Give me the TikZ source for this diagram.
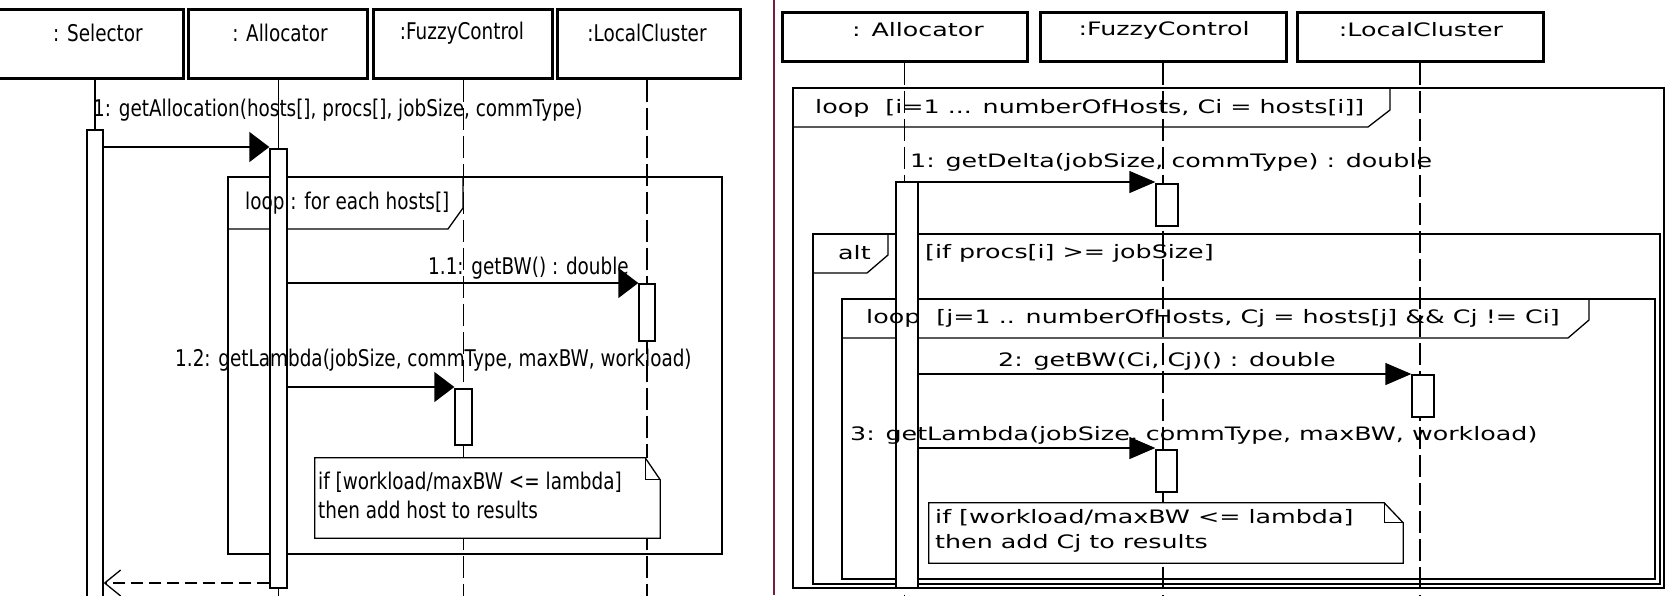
\documentclass[tikz,border=0pt]{standalone}
\usepackage{fontspec}
\usetikzlibrary{arrows.meta}
\newfontfamily\lfnt[FakeStretch=0.8]{DejaVu Sans}
\newfontfamily\rfnt[FakeStretch=1.37]{DejaVu Sans}
\newcommand\lsz{\lfnt\fontsize{23}{27}\selectfont}
\newcommand\rsz{\rfnt\fontsize{18.5}{22}\selectfont}
\definecolor{maroonc}{RGB}{120,30,70}
\begin{document}
\begin{tikzpicture}[x=1pt,y=-1pt,
  hdr/.style={draw, line width=3pt, fill=white, inner sep=0pt},
  act/.style={draw, line width=1.3pt, fill=white, inner sep=0pt},
  life/.style={line width=1.3pt, dash pattern=on 22pt off 6pt},
  frm/.style={line width=1.3pt},
  frmthick/.style={line width=2.6pt},
  lmsg/.style={line width=1.3pt, -{Triangle[length=20pt,width=30pt]}},
  rmsg/.style={line width=1.3pt, -{Triangle[length=26pt,width=22pt]}},
  ret/.style={line width=1.3pt, dash pattern=on 12pt off 6pt, -{Straight Barb[length=16pt,width=26pt]}},
  ltxt/.style={font=\lsz, inner sep=0pt, anchor=west},
  rtxt/.style={font=\rsz, inner sep=0pt, anchor=west},
  lhtxt/.style={font=\lsz, inner sep=0pt},
  rhtxt/.style={font=\rsz, inner sep=0pt},
  notebg/.style={fill=white, inner sep=0pt},
  notefrm/.style={line width=1.3pt},
]
\useasboundingbox (0,0) rectangle (1665,595);
\fill[white] (0,0) rectangle (1665,595);

% ---------------- LEFT PANEL ----------------
\node[hdr, minimum width=185pt, minimum height=69pt] (lsel) at (90.5,43.5) {};
\node[hdr, minimum width=179pt, minimum height=69pt] (lall) at (277.5,43.5) {};
\node[hdr, minimum width=179pt, minimum height=69pt] (lfuz) at (462.5,43.5) {};
\node[hdr, minimum width=183pt, minimum height=69pt] (lloc) at (648.5,43.5) {};
\node[lhtxt] (lselt) at (98,33) {: Selector};
\node[lhtxt] (lallt) at (280,33) {: Allocator};
\node[lhtxt] (lfuzt) at (462,33) {:FuzzyControl};
\node[lhtxt] (lloct) at (647,33) {:LocalCluster};

\path (95,367.5) coordinate (lsac);
\path (278.5,368.5) coordinate (laac);
\path (463.5,417) coordinate (lfac);
\path (647,312.5) coordinate (llac);

% lifelines
\draw[frm] (lsel.south -| lsac) -- (95,130);
\draw[frm] (lall.south -| laac) -- (278.5,149);
\draw[life] (278.5,588) -- (278.5,600);
\draw[life] (lfuz.south -| lfac) -- (463.5,600);
\draw[life] (lloc.south -| llac) -- (647,600);

% loop frame
\draw[frm] (228,177) rectangle (722,554);
\draw[frm] (228,229) -- (448,229) -- (463,208) -- (463,177);
\draw[frmthick] (228,229) -- (228,177) -- (463,177);

% activations
\node[act, minimum width=16pt, minimum height=475pt] (lsa) at (lsac) {};
\node[act, minimum width=17pt, minimum height=439pt] (laa) at (laac) {};
\node[act, minimum width=17pt, minimum height=56pt] (lfa) at (lfac) {};
\node[act, minimum width=16pt, minimum height=57pt] (lla) at (llac) {};

\node[ltxt] (lloopt) at (245,203) {loop : for each hosts[]};

% note
\node[notebg, minimum width=345pt, minimum height=80pt] (ln) at (487.5,498) {};
\draw[notefrm] (ln.north west) -- ([xshift=-15pt]ln.north east) -- ([yshift=-22pt]ln.north east) -- (ln.south east) -- (ln.south west) -- cycle;
\draw[notefrm] ([xshift=-15pt]ln.north east) -- ([xshift=-15pt,yshift=-22pt]ln.north east) -- ([yshift=-22pt]ln.north east);
\node[ltxt] (lnt1) at (318,482) {if [workload/maxBW <= lambda]};
\node[ltxt] (lnt2) at (318,510) {then add host to results};

% messages
\draw[lmsg] (lsa.east |- 0,147) -- (laa.west |- 0,147);
\node[ltxt] (lm1) at (93,110) {1: getAllocation(hosts[], procs[], jobSize, commType)};
\draw[lmsg] (laa.east |- 0,283) -- (lla.west |- 0,283);
\node[ltxt] (lm11) at (428,268) {1.1: getBW() : double};
\draw[lmsg] (laa.east |- 0,387) -- (lfa.west |- 0,387);
\node[ltxt] (lm12) at (175,360) {1.2: getLambda(jobSize, commType, maxBW, workload)};
\draw[ret] (laa.west |- 0,583) -- (lsa.east |- 0,583);

% divider
\draw[line width=2pt, maroonc] (773.5,0) -- (773.5,595);

% ---------------- RIGHT PANEL ----------------
\node[hdr, minimum width=245pt, minimum height=49pt] (rall) at (904.5,36.5) {};
\node[hdr, minimum width=246pt, minimum height=49pt] (rfuz) at (1163,36.5) {};
\node[hdr, minimum width=246pt, minimum height=49pt] (rloc) at (1420,36.5) {};
\node[rhtxt] (rallt) at (918,30) {: Allocator};
\node[rhtxt] (rfuzt) at (1164,30) {:FuzzyControl};
\node[rhtxt] (rloct) at (1421,30) {:LocalCluster};

\draw[life] (rall.south) -- (904.5,600);
\draw[life] (rfuz.south) -- (1163,600);
\draw[life] (rloc.south) -- (1420,600);

% outer loop
\draw[frm] (793,88) rectangle (1664,588);
\draw[frm] (793,127) -- (1368,127) -- (1390,110) -- (1390,88);
\draw[frmthick] (793,127) -- (793,88) -- (1390,88);

% alt
\draw[frm] (813,234) rectangle (1660,584);
\draw[frm] (813,273) -- (867,273) -- (888,255) -- (888,234);
\draw[frmthick] (813,273) -- (813,234) -- (888,234);
\draw[line width=2.2pt] (1660,234) -- (1660,584);

% inner loop
\draw[frm] (842,299) rectangle (1655,579);
\draw[frm] (842,338) -- (1568,338) -- (1589,320) -- (1589,299);
\draw[frmthick] (842,338) -- (842,299) -- (1589,299);

% activations
\node[act, minimum width=22pt, minimum height=406pt] (raa) at (907,385) {};
\node[act, minimum width=22pt, minimum height=42pt] (rfa1) at (1167,205) {};
\node[act, minimum width=21pt, minimum height=42pt] (rfa2) at (1166.5,471) {};
\node[act, minimum width=22pt, minimum height=42pt] (rla) at (1423,396) {};

% frame labels
\node[rtxt] (rloop1t) at (815,108) {loop\ \ [i=1 ... numberOfHosts, Ci = hosts[i]]};
\node[rtxt] (raltt) at (838,253) {alt};
\node[rtxt] (rguard) at (925,253) {[if procs[i] >= jobSize]};
\node[rtxt] (rloop2t) at (866,318) {loop\ \ [j=1 .. numberOfHosts, Cj = hosts[j] \&\& Cj != Ci]};

% note
\node[notebg, minimum width=474pt, minimum height=60pt] (rn) at (1166,533) {};
\draw[notefrm] (rn.north west) -- ([xshift=-19pt]rn.north east) -- ([yshift=-20pt]rn.north east) -- (rn.south east) -- (rn.south west) -- cycle;
\draw[notefrm] ([xshift=-19pt]rn.north east) -- ([xshift=-19pt,yshift=-20pt]rn.north east) -- ([yshift=-20pt]rn.north east);
\node[rtxt] (rnt1) at (935,518) {if [workload/maxBW <= lambda]};
\node[rtxt] (rnt2) at (935,543) {then add Cj to results};

% messages
\draw[rmsg] (raa.east |- 0,182) -- (rfa1.west |- 0,182);
\node[rtxt] (rm1) at (910,162) {1: getDelta(jobSize, commType) : double};
\draw[rmsg] (raa.east |- 0,374) -- (rla.west |- 0,374);
\node[rtxt] (rm2) at (998,361) {2: getBW(Ci, Cj)() : double};
\draw[rmsg] (raa.east |- 0,448) -- (rfa2.west |- 0,448);
\node[rtxt] (rm3) at (850,435) {3: getLambda(jobSize, commType, maxBW, workload)};
\end{tikzpicture}
\end{document}
